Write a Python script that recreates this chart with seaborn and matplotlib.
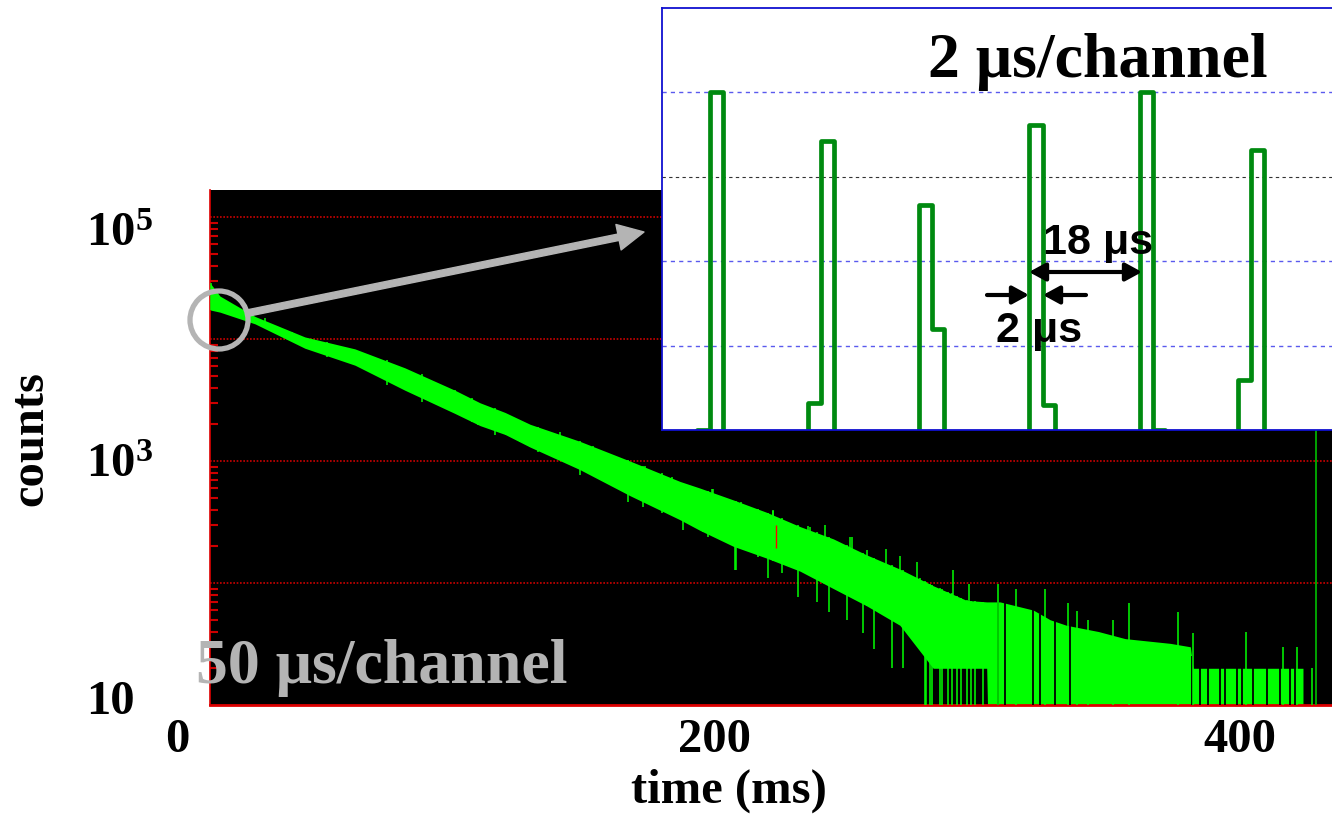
import matplotlib
matplotlib.use('Agg')
import matplotlib.pyplot as plt
import seaborn as sns
import pandas as pd
import numpy as np
from matplotlib.patches import Circle
from matplotlib.transforms import IdentityTransform
from matplotlib.ticker import LogLocator, NullFormatter, NullLocator

W, H = 1332, 816

# decay spectrum, 50 us/channel: envelope of the green band (time in ms, counts)
decay_t = [11.3, 15.0, 28.2, 46.9, 65.7, 84.5, 103.3, 112.7, 122.1, 131.5,
           150.2, 169.0, 187.8, 195.3, 207.8, 220.3, 232.9, 245.4, 257.9, 270.4,
           282.9, 295.5, 303.0, 303.6, 308.0, 320.5, 326.8, 333.0, 345.0, 355.0,
           372.0, 379.5, 380.5, 421.8]
decay_hi = [28800, 22500, 15300, 10400, 8300, 5800, 3800, 3000, 2500, 2000,
            1450, 1000, 680, 600, 480, 380, 290, 230, 170, 130,
            95, 72, 70, 70, 70, 60, 50, 45, 40, 35,
            32, 30, 20, 20]
decay_lo = [17300, 16600, 13300, 8400, 6100, 3800, 2450, 1950, 1650, 1300,
            850, 520, 330, 270, 200, 160, 125, 90, 65, 45,
            20, 20, 20, 5, 5, 5, 5, 5, 5, 5,
            5, 5, 5, 5]

# single channels sticking out of the band
spike_up_t = [11.6, 31.9, 41.9, 56.3, 62.0, 73.2, 82.0, 94.5, 102.0, 112.0,
              114.6, 118.3, 122.5, 127.7, 131.5, 142.7, 150.9, 155.9, 160.0, 165.9,
              174.7, 184.7, 187.6, 196.6, 199.7, 200.1, 205.1, 209.7, 210.6, 214.1,
              222.6, 222.9, 236.0, 236.6, 242.4, 251.6, 252.3, 257.9, 265.0, 270.4,
              276.7, 290.2, 296.5, 307.1, 314.0, 324.9, 333.6, 336.8, 341.2, 350.5,
              356.6, 375.0, 380.6, 400.4, 414.3, 419.5, 425.1]
spike_up_c = [28600, 14800, 11500, 8390, 7880, 6130, 4980, 3820, 3480, 2790,
              2700, 2620, 2240, 2060, 1910, 1740, 1310, 1190, 1050, 927,
              910, 745, 617, 560, 586, 586, 494, 450, 464, 384,
              392, 397, 293, 290, 299, 240, 240, 186, 189, 166,
              150, 129, 99, 99, 89, 89, 69, 59, 50, 50,
              69, 58, 39, 40, 30, 30, 20]
spike_dn_t = [13.1, 55.1, 77.6, 90.8, 103.3, 109.5, 118.3, 134.6, 150.3, 155.3,
              168.4, 174.0, 180.9, 189.1, 198.5, 208.5, 208.7, 217.2, 221.0, 226.0,
              232.0, 239.1, 243.6, 250.4, 256.4, 260.7, 267.3, 271.4, 277.9, 279.8,
              280.2, 281.7, 282.4, 285.4, 286.2, 288.6, 290.0, 291.7, 293.5, 295.5,
              297.0, 298.6, 301.7]
spike_dn_c = [17300, 7180, 4200, 3070, 2460, 2100, 1630, 1190, 768, 843,
              464, 423, 372, 272, 240, 128, 128, 164, 109, 120,
              77, 70, 58, 50, 39, 29, 20, 20, 29, 5,
              5, 5, 5, 5, 5, 5, 5, 5, 5, 5,
              5, 5, 5]
# empty channels in the tail
gap_t = [307.3, 309.8, 320.5, 323.0, 328.6, 334.3, 380.0, 383.1, 386.2, 390.6,
         392.5, 397.0, 398.9, 403.0, 408.3, 413.1, 416.9, 418.8]
marker_t = 426.7
cursor_t = 223.9
cursor_c = [194, 299]

# zoomed spectrum, 2 us/channel: channel edges (us) and contents (grid units)
peak_edges = [[5.6, 7.7, 9.9],
              [23.6, 25.7, 27.9],
              [41.7, 43.8, 45.7],
              [59.5, 61.7, 63.7],
              [77.5, 79.6, 81.6],
              [93.3, 95.5, 97.5]]
peak_counts = [[0, 4.0],
               [0.32, 3.42],
               [2.67, 1.20],
               [3.61, 0.30],
               [4.0, 0],
               [0.59, 3.32]]


def fx(px):
    return px / W


def fy(py):
    return 1 - py / H


sns.set_theme(style='white')
plt.rcParams['font.family'] = ['Liberation Serif', 'DejaVu Serif']
plt.rcParams['mathtext.fontset'] = 'custom'
plt.rcParams['mathtext.rm'] = 'Liberation Serif'
plt.rcParams['mathtext.bf'] = 'Liberation Serif:bold'

fig = plt.figure(figsize=(W / 100, H / 100), dpi=100)
fig.patch.set_facecolor('white')

# ---- main panel ----
ax = fig.add_axes([fx(210), fy(705), fx(1332) - fx(210), fy(190) - fy(705)])
ax.set_facecolor('black')
ax.set_yscale('log')
ax.set_xlim((11.27, 432.7))
ax.set_ylim(10, 10 ** (1 + (705 - 190) / 122))

for v in [100, 1000, 10000, 100000]:
    ax.axhline(v, color='#cc0000', lw=1.2, ls=(0, (1, 1)), zorder=1)

green = '#00ff00'
ax.fill_between(decay_t, decay_lo, decay_hi, color=green, lw=0, zorder=2)
ax.vlines(gap_t, 5, np.interp(gap_t, decay_t, decay_hi), color='black', lw=1.3, zorder=3)
ax.vlines(spike_up_t, np.interp(spike_up_t, decay_t, decay_lo, right=5), spike_up_c,
          color=green, lw=1.1, zorder=4)
ax.vlines(spike_dn_t, spike_dn_c, np.interp(spike_dn_t, decay_t, decay_hi),
          color=green, lw=1.1, zorder=4)
ax.axvline(marker_t, color='#00b000', lw=1.3, zorder=4)
ax.vlines(cursor_t, cursor_c[0], cursor_c[1], color='red', lw=1.0, zorder=5)

for s in ['top', 'right']:
    ax.spines[s].set_visible(False)
ax.spines['left'].set_color('#dd0000')
ax.spines['left'].set_linewidth(1.2)
ax.spines['bottom'].set_color('#dd0000')
ax.spines['bottom'].set_linewidth(2)
ax.xaxis.set_major_locator(NullLocator())
ax.yaxis.set_major_locator(NullLocator())
ax.yaxis.set_minor_locator(LogLocator(base=10, subs=np.arange(2, 10)))
ax.yaxis.set_minor_formatter(NullFormatter())
ax.tick_params(axis='y', which='minor', direction='in', length=6, width=1.5,
               color='#cc0000', left=True)
ax.set_xlabel('')
ax.set_ylabel('')

# ---- inset ----
ins = fig.add_axes([fx(662), fy(430), 1 - fx(662), fy(8) - fy(430)], zorder=3)
ins.set_facecolor('white')
ins.set_xlim(0, (1332 - 662) / 6.17)
ins.set_ylim(0, 5)
for v in [1, 2, 4]:
    ins.axhline(v, color='#5a5aee', lw=1.0, ls=(0, (3, 3)), zorder=1)
ins.axhline(3, color='#333333', lw=0.8, ls=(0, (3, 3)), zorder=1)

rows = []
for k, (edges, counts) in enumerate(zip(peak_edges, peak_counts)):
    xs = [edges[0]] + edges
    ys = [0] + counts + [0]
    for x, y in zip(xs, ys):
        rows.append({'t': x, 'c': y, 'peak': k})
peaks = pd.DataFrame(rows)
sns.lineplot(data=peaks, x='t', y='c', units='peak', estimator=None, sort=False,
             drawstyle='steps-post', color='#008a10', lw=3.4, ax=ins, zorder=2)

ins.set_xticks([])
ins.set_yticks([])
ins.set_xlabel('')
ins.set_ylabel('')
ins.spines['right'].set_visible(False)
for s in ['left', 'top', 'bottom']:
    ins.spines[s].set_color('#1010d0')
    ins.spines[s].set_linewidth(1.3)

# arrows in the inset
arrow_kw = dict(lw=3, color='black', shrinkA=0, shrinkB=0, mutation_scale=18)
ins.annotate('', xy=(1142, H - 272), xytext=(1029, H - 272), xycoords='figure pixels',
             arrowprops=dict(arrowstyle='<|-|>,head_length=0.55,head_width=0.3', **arrow_kw))
ins.annotate('', xy=(1029, H - 295), xytext=(987, H - 295), xycoords='figure pixels',
             arrowprops=dict(arrowstyle='-|>,head_length=0.55,head_width=0.3', **arrow_kw))
ins.annotate('', xy=(1043, H - 295), xytext=(1086, H - 295), xycoords='figure pixels',
             arrowprops=dict(arrowstyle='-|>,head_length=0.55,head_width=0.3', **arrow_kw))

sans = ['Liberation Sans', 'DejaVu Sans']
fig.text(fx(1043), fy(254), '18 \u03bcs', family=sans, fontweight='bold', fontsize=31,
         color='black', ha='left', va='baseline', zorder=10)
fig.text(fx(996), fy(342), '2 \u03bcs', family=sans, fontweight='bold', fontsize=31,
         color='black', ha='left', va='baseline', zorder=10)
fig.text(fx(928), fy(77), '2 \u03bcs/channel', fontweight='bold', fontsize=46,
         color='black', ha='left', va='baseline', zorder=10)

# circle and pointer from main panel to inset
fig.add_artist(Circle((219, H - 320), 29, transform=IdentityTransform(), fill=False,
                      ec='#b4b4b4', lw=3.8, zorder=5))
ax.annotate('', xy=(644, H - 232), xytext=(248, H - 313), xycoords='figure pixels',
            arrowprops=dict(arrowstyle='simple,head_length=0.72,head_width=0.72,tail_width=0.18',
                            color='#b4b4b4', mutation_scale=26, shrinkA=0, shrinkB=0),
            zorder=5)

fig.text(fx(196), fy(683), '50 \u03bcs/channel', fontweight='bold', fontsize=46,
         color='#b4b4b4', ha='left', va='baseline', zorder=10)

# axis labels
lab = dict(fontsize=35, fontweight='bold', color='black')
fig.text(fx(86), fy(246), r'$\mathbf{10^5}$', ha='left', va='baseline', **lab)
fig.text(fx(86), fy(477), r'$\mathbf{10^3}$', ha='left', va='baseline', **lab)
fig.text(fx(86), fy(714), '10', ha='left', va='baseline', **lab)
for t, px in [('0', 177), ('200', 714), ('400', 1240)]:
    fig.text(fx(px), fy(752), t, ha='center', va='baseline', **lab)
fig.text(fx(729), fy(803), 'time (ms)', ha='center', va='baseline', **lab)
fig.text(fx(30), fy(438), 'counts', rotation=90, ha='center', va='center', **lab)

fig.savefig('out.png', dpi=100, facecolor='white')
